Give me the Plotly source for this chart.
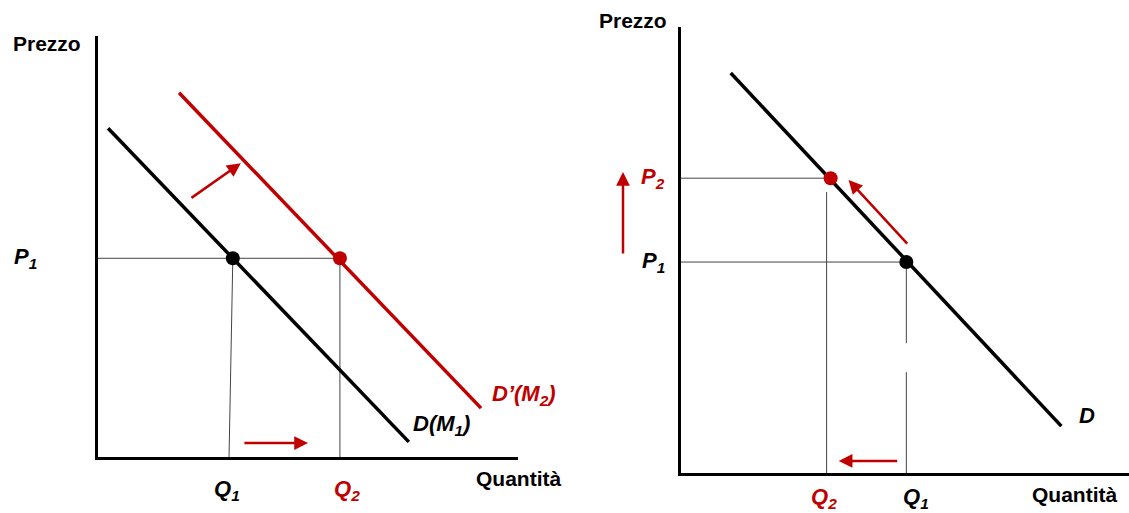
import plotly.graph_objects as go

W, H = 1129, 513
RED = "#C00000"
BLACK = "#000000"
GRID = "#444444"
FONT = "Liberation Sans, Arial, sans-serif"

# ---------- Left panel (income shift of demand), units 0-10 ----------
L_D_q = [0.24, 7.40]
L_D_p = [7.81, 0.36]
L_D2_q = [1.93, 9.12]
L_D2_p = [8.65, 1.16]
L_P1 = 4.72
L_Q1_top, L_Q1_bottom = 3.21, 3.12
L_Q2 = 5.76
L_arrow_h = {"q": [3.45, 5.0], "p": [0.33, 0.33]}
L_arrow_shift = {"q": [2.19, 3.40], "p": [6.13, 6.98]}

# ---------- Right panel (movement along demand), units 0-10 ----------
R_D_q = [1.11, 8.49]
R_D_p = [8.97, 1.05]
R_P1, R_Q1 = 4.73, 5.03
R_P2, R_Q2 = 6.61, 3.34
R_Q2_line = 3.25
R_Q2_top = 6.30
R_Q1_gap = [2.26, 2.91]
R_arrow_along = {"q": [5.08, 3.74], "p": [5.11, 6.57]}
R_arrow_up_p = [4.89, 6.75]
R_arrow_left = {"q": [4.86, 3.52], "p": [0.27, 0.27]}

fig = go.Figure()

def line(x, y, color, width, xa="x", ya="y"):
    fig.add_trace(go.Scatter(x=x, y=y, mode="lines", xaxis=xa, yaxis=ya,
                             line=dict(color=color, width=width),
                             hoverinfo="skip", showlegend=False))

def dot(x, y, color, xa="x", ya="y"):
    fig.add_trace(go.Scatter(x=[x], y=[y], mode="markers", xaxis=xa, yaxis=ya,
                             marker=dict(color=color, size=14),
                             hoverinfo="skip", showlegend=False, cliponaxis=False))

# Left guides
line([0, L_Q2], [L_P1, L_P1], GRID, 1)
line([L_Q1_top, L_Q1_bottom], [L_P1, 0], GRID, 1)
line([L_Q2, L_Q2], [L_P1, 0], GRID, 1)
# Left demand curves
line(L_D_q, L_D_p, BLACK, 3.5)
line(L_D2_q, L_D2_p, RED, 3.5)
dot(L_Q1_top, L_P1, BLACK)
dot(L_Q2, L_P1, RED)

# Right guides
line([0, R_Q2], [R_P2, R_P2], GRID, 1, "x2", "y2")
line([0, R_Q1], [R_P1, R_P1], GRID, 1, "x2", "y2")
line([R_Q2_line, R_Q2_line], [R_Q2_top, 0], GRID, 1, "x2", "y2")
line([R_Q1, R_Q1, None, R_Q1, R_Q1], [R_P1, R_Q1_gap[1], None, R_Q1_gap[0], 0], GRID, 1, "x2", "y2")
line(R_D_q, R_D_p, BLACK, 3.5, "x2", "y2")
dot(R_Q2, R_P2, RED, "x2", "y2")
dot(R_Q1, R_P1, BLACK, "x2", "y2")

ann = []
ARROW = dict(showarrow=True, arrowhead=2, arrowsize=1.1, arrowwidth=2.5, arrowcolor=RED, text="")

def arrow(a, xa, ya):
    ann.append(dict(x=a["q"][1], y=a["p"][1], ax=a["q"][0], ay=a["p"][0],
                    xref=xa, yref=ya, axref=xa, ayref=ya, **ARROW))

arrow(L_arrow_h, "x", "y")
arrow(L_arrow_shift, "x", "y")
arrow(R_arrow_along, "x2", "y2")
arrow(R_arrow_left, "x2", "y2")
# vertical price arrow, drawn left of the price axis
ann.append(dict(x=0, y=R_arrow_up_p[1], xref="x2", yref="y2", xshift=-58,
                axref="pixel", ayref="pixel", ax=0,
                ay=(R_arrow_up_p[1] - R_arrow_up_p[0]) * 44.6, **ARROW))

def label(text, x, y, xa, ya, size, color=BLACK, dx=0, dy=0):
    ann.append(dict(text=text, x=x, y=y, xref=xa, yref=ya, showarrow=False,
                    xanchor="center", yanchor="middle", xshift=dx, yshift=dy,
                    font=dict(family=FONT, size=size, color=color)))

def sub(main, s):
    return f"<b><i>{main}</i></b><sub><b><i>{s}</i></b></sub>"

# Left labels
label("<b>Prezzo</b>", 0, 10, "x", "y", 21, dx=-51, dy=-7)
label(sub("P", "1"), 0, L_P1, "x", "y", 22, dx=-73)
label(sub("Q", "1"), 3.07, 0, "x", "y", 22, dy=-33)
label(sub("Q", "2"), 5.93, 0, "x", "y", 22, RED, dy=-33)
label("<b>Quantità</b>", 10, 0, "x", "y", 21, dy=-21)
label(sub("D’(M", "2") + "<b><i>)</i></b>", 10, 1.47, "x", "y", 22, RED, dx=6)
label(sub("D(M", "1") + "<b><i>)</i></b>", 8.17, 0.76, "x", "y", 22)

# Right labels
label("<b>Prezzo</b>", 0, 10, "x2", "y2", 21, dx=-48, dy=7)
label(sub("P", "2"), 0, R_P2, "x2", "y2", 22, RED, dx=-28)
label(sub("P", "1"), 0, R_P1, "x2", "y2", 22, dx=-28)
label(sub("Q", "2"), 3.20, 0, "x2", "y2", 22, RED, dy=-25)
label(sub("Q", "1"), 5.25, 0, "x2", "y2", 22, dy=-25)
label("<b>Quantità</b>", 8.78, 0, "x2", "y2", 21, dy=-21)
label("<b><i>D</i></b>", 9.06, 1.30, "x2", "y2", 22)

ax_common = dict(range=[0, 10], showgrid=False, zeroline=False, showticklabels=False,
                 ticks="", showline=True, linecolor=BLACK, linewidth=2.5, fixedrange=True)

fig.update_layout(
    width=W, height=H, margin=dict(l=0, r=0, t=0, b=0),
    paper_bgcolor="white", plot_bgcolor="white",
    xaxis=dict(domain=[98 / W, 518 / W], anchor="y", **ax_common),
    yaxis=dict(domain=[(H - 457) / H, (H - 36) / H], anchor="x", **ax_common),
    xaxis2=dict(domain=[681 / W, 1.0], anchor="y2", **ax_common),
    yaxis2=dict(domain=[(H - 473) / H, (H - 27) / H], anchor="x2", **ax_common),
    annotations=ann,
    showlegend=False,
)

fig.write_html("out.html", config={"displayModeBar": False},
               post_script="document.body.style.margin='0';")
